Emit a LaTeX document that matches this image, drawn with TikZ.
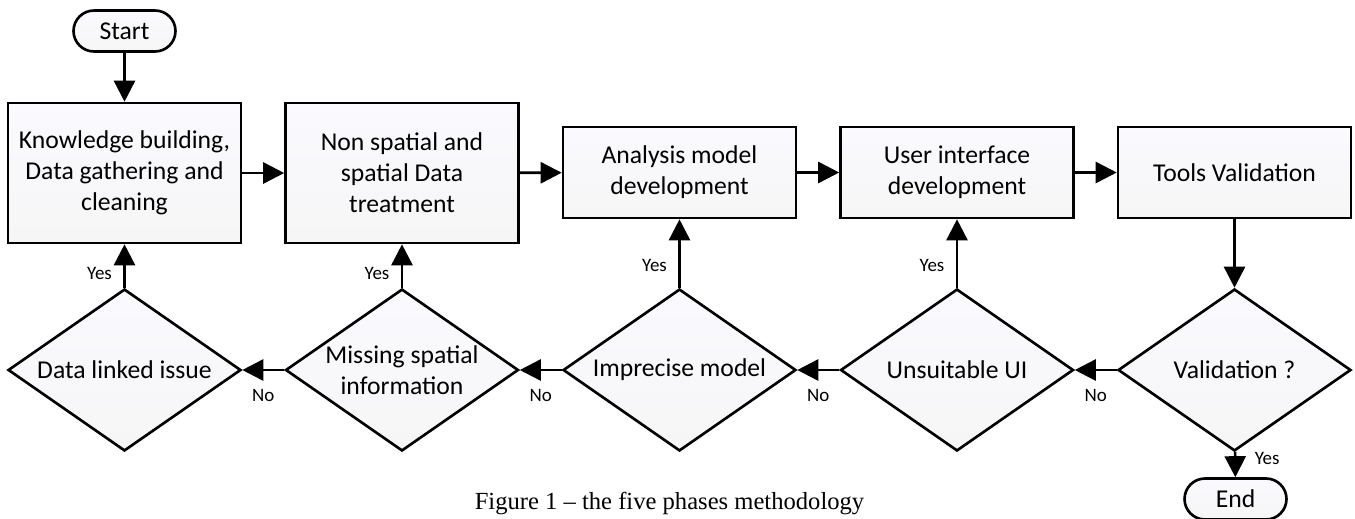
\documentclass[tikz,border=0pt]{standalone}
\usepackage{fontspec}
\setmainfont{Carlito}
\newfontfamily\captionfont{Liberation Serif}
\usetikzlibrary{shapes.geometric,arrows.meta}

\begin{document}
\begin{tikzpicture}[x=0.02cm, y=-0.02cm,
  every node/.style={font=\fontsize{14.6}{17.6}\selectfont},
  shade/.style={top color=blue!2, middle color=blue!3, bottom color=gray!7, draw, line width=1.5pt},
  box/.style={shade, minimum width=4.66cm, align=center, inner sep=0pt},
  tall/.style={box, minimum height=2.8cm},
  flat/.style={box, minimum height=1.82cm},
  test/.style={shade, diamond, shape aspect=1.44, minimum width=4.66cm, minimum height=3.24cm, align=center, inner sep=0pt},
  term/.style={shade, rounded corners=0.41cm, minimum width=2.04cm, minimum height=0.82cm, inner sep=0pt},
  arr/.style={line width=1.5pt, -{Triangle[length=0.42cm, width=0.42cm]}},
  lbl/.style={font=\fontsize{10.8}{13}\selectfont, inner sep=0pt}]
\useasboundingbox (0,0) rectangle (1355,518);

% Terminals
\node[term] (start) at (124.5,31) {Start};
\node[term] (end) at (1235.5,499) {End};

% The five phases
\node[tall] (know) at (124.5,173) {Knowledge building,\\Data gathering and\\cleaning};
\node[tall] (treat) at (402,173) {Non spatial and\\spatial Data\\treatment};
\node[flat] (model) at (679.5,172.5) {Analysis model\\development};
\node[flat] (ui) at (957,172.5) {User interface\\development};
\node[flat] (tools) at (1234.5,172.5) {Tools Validation};

% The checks
\node[test] (linked) at (124.5,370) {Data linked issue};
\node[test] (missing) at (402,370) {Missing spatial\\information};
\node[test] (imprecise) at (679.5,370) {Imprecise model};
\node[test] (unsuitable) at (957,370) {Unsuitable UI};
\node[test] (valid) at (1234.5,370) {Validation ?};

% Main flow
\draw[arr] (start) -- (know);
\draw[arr] (know) -- (treat);
\draw[arr] (treat) -- (model);
\draw[arr] (model) -- (ui);
\draw[arr] (ui) -- (tools);
\draw[arr] (tools) -- (valid);
\draw[arr] (valid) -- node[lbl, pos=0.28, xshift=0.64cm] {Yes} (end);

% Going back on No
\draw[arr] (valid) -- node[lbl, midway, yshift=-0.5cm] {No} (unsuitable);
\draw[arr] (unsuitable) -- node[lbl, midway, yshift=-0.5cm] {No} (imprecise);
\draw[arr] (imprecise) -- node[lbl, midway, yshift=-0.5cm] {No} (missing);
\draw[arr] (missing) -- node[lbl, midway, yshift=-0.5cm] {No} (linked);

% Redo a phase on Yes
\draw[arr] (linked) -- node[lbl, pos=0.32, xshift=-0.5cm] {Yes} (know);
\draw[arr] (missing) -- node[lbl, pos=0.32, xshift=-0.5cm] {Yes} (treat);
\draw[arr] (imprecise) -- node[lbl, pos=0.32, xshift=-0.5cm] {Yes} (model);
\draw[arr] (unsuitable) -- node[lbl, pos=0.32, xshift=-0.5cm] {Yes} (ui);

% Caption
\node[font=\captionfont\fontsize{14}{16}\selectfont, anchor=base] (caption) at (669.5,509) {Figure 1 – the five phases methodology};
\end{tikzpicture}
\end{document}
